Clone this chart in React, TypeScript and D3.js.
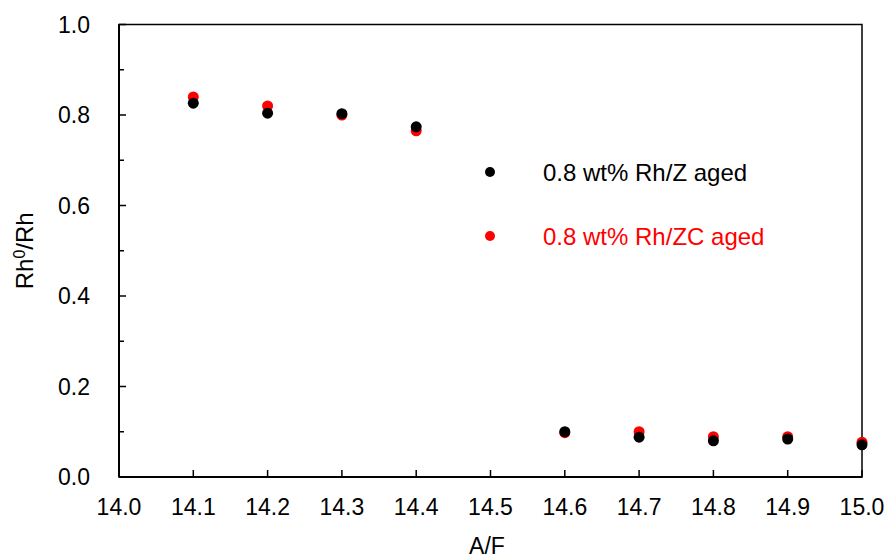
import React from 'react'
import * as d3 from 'd3'

const afValues = [14.1, 14.2, 14.3, 14.4, 14.6, 14.7, 14.8, 14.9, 15.0]
const rhZ = [0.826, 0.804, 0.803, 0.774, 0.1, 0.088, 0.08, 0.084, 0.071]
const rhZC = [0.84, 0.82, 0.8, 0.765, 0.098, 0.1, 0.089, 0.089, 0.077]
const xTicks = [14.0, 14.1, 14.2, 14.3, 14.4, 14.5, 14.6, 14.7, 14.8, 14.9, 15.0]
const yTicks = [0, 0.2, 0.4, 0.6, 0.8, 1.0]
const yMinor = [0.1, 0.3, 0.5, 0.7, 0.9]
const seriesNames = ['0.8 wt% Rh/Z aged', '0.8 wt% Rh/ZC aged']

const W = 885
const H = 560
const m = { left: 119, right: 23, top: 24.5, bottom: 83 }
const font = 'Arial, "Liberation Sans", sans-serif'
const fs = 23

export default function App() {
  const x = d3.scaleLinear().domain([14.0, 15.0]).range([m.left, W - m.right])
  const y = d3.scaleLinear().domain([0, 1]).range([H - m.bottom, m.top])
  const fmt = d3.format('.1f')

  return (
    <svg
      width={W}
      height={H}
      style={{ position: 'absolute', left: 0, top: 0, background: '#fff' }}
      fontFamily={font}
    >
      {/* frame */}
      <rect
        x={x(14)}
        y={y(1)}
        width={x(15) - x(14)}
        height={y(0) - y(1)}
        fill="none"
        stroke="#000"
        strokeWidth={1.5}
      />
      <line x1={x(14)} x2={x(14)} y1={y(1)} y2={y(0)} stroke="#000" strokeWidth={2} />
      <line x1={x(14)} x2={x(15)} y1={y(0)} y2={y(0)} stroke="#000" strokeWidth={2} />

      {/* y ticks */}
      {yTicks.map(t => (
        <g key={'y' + t}>
          <line x1={x(14)} x2={x(14) + 7} y1={y(t)} y2={y(t)} stroke="#000" strokeWidth={1.5} />
          <text x={90} y={y(t)} dy="0.36em" textAnchor="end" fontSize={fs}>
            {fmt(t)}
          </text>
        </g>
      ))}
      {yMinor.map(t => (
        <line key={'ym' + t} x1={x(14)} x2={x(14) + 5} y1={y(t)} y2={y(t)} stroke="#000" strokeWidth={1.5} />
      ))}

      {/* x ticks */}
      {xTicks.map(t => (
        <g key={'x' + t}>
          <line x1={x(t)} x2={x(t)} y1={y(0)} y2={y(0) - 7} stroke="#000" strokeWidth={1.5} />
          <text x={x(t)} y={515} textAnchor="middle" fontSize={fs}>
            {fmt(t)}
          </text>
        </g>
      ))}

      {/* axis titles */}
      <text x={487} y={554} textAnchor="middle" fontSize={fs}>
        A/F
      </text>
      <text
        transform={`translate(33, ${y(0.5)}) rotate(-90)`}
        textAnchor="middle"
        fontSize={24}
      >
        Rh<tspan baselineShift="super" fontSize={16}>0</tspan>/Rh
      </text>

      {/* points */}
      {afValues.map((a, i) => (
        <circle key={'r' + i} cx={x(a)} cy={y(rhZC[i])} r={5.5} fill="#ff0000" />
      ))}
      {afValues.map((a, i) => (
        <circle key={'b' + i} cx={x(a)} cy={y(rhZ[i])} r={5.5} fill="#000" />
      ))}

      {/* legend */}
      <circle cx={490} cy={172} r={5} fill="#000" />
      <text x={543} y={172} dy="0.36em" fontSize={24} fill="#000">
        {seriesNames[0]}
      </text>
      <circle cx={490} cy={236} r={5} fill="#ff0000" />
      <text x={543} y={236} dy="0.36em" fontSize={24} fill="#ff0000">
        {seriesNames[1]}
      </text>
    </svg>
  )
}
